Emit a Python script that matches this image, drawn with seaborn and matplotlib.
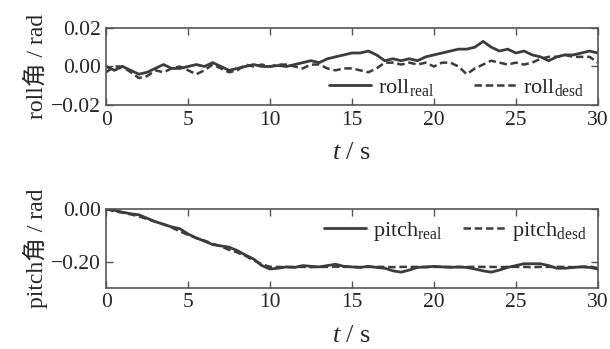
import numpy as np
import pandas as pd
import matplotlib
matplotlib.use("Agg")
import matplotlib.pyplot as plt
import seaborn as sns

# time axis, every 0.5 s
t = np.arange(0, 30.01, 0.5)

roll_real = [0.000, -0.002, 0.000, -0.002, -0.004, -0.003, -0.001, 0.001, -0.001, -0.001,
             0.000, 0.001, 0.000, 0.002, 0.000, -0.002, -0.001, 0.000, 0.001, 0.000,
             0.000, 0.0005, 0.000, 0.001, 0.002, 0.003, 0.002, 0.004, 0.005, 0.006,
             0.007, 0.007, 0.008, 0.006, 0.003, 0.004, 0.003, 0.004, 0.003, 0.005,
             0.006, 0.007, 0.008, 0.009, 0.009, 0.010, 0.013, 0.010, 0.008, 0.009,
             0.007, 0.008, 0.006, 0.005, 0.003, 0.005, 0.006, 0.006, 0.007, 0.008,
             0.007]
roll_desd = [-0.003, 0.000, 0.000, -0.003, -0.006, -0.005, -0.002, -0.003, -0.001, 0.000,
             -0.002, -0.004, -0.002, 0.001, -0.001, -0.003, -0.002, 0.001, 0.000, 0.001,
             0.000, 0.001, 0.001, 0.000, -0.001, 0.001, 0.001, -0.001, -0.002, -0.001,
             -0.001, -0.002, -0.003, -0.001, 0.002, 0.002, 0.001, 0.002, 0.001, 0.002,
             0.000, 0.002, 0.002, 0.000, -0.004, -0.001, 0.001, 0.003, 0.002, 0.001,
             0.002, 0.001, 0.002, 0.004, 0.005, 0.005, 0.006, 0.005, 0.005, 0.005,
             0.002]

pitch_real = [0.000, -0.005, -0.012, -0.018, -0.022, -0.035, -0.048, -0.058, -0.068, -0.075,
              -0.095, -0.110, -0.122, -0.135, -0.140, -0.145, -0.158, -0.175, -0.190, -0.215,
              -0.228, -0.225, -0.220, -0.222, -0.215, -0.218, -0.220, -0.215, -0.210, -0.218,
              -0.220, -0.222, -0.218, -0.222, -0.225, -0.235, -0.240, -0.232, -0.222, -0.220,
              -0.218, -0.220, -0.222, -0.220, -0.222, -0.228, -0.235, -0.240, -0.232, -0.222,
              -0.215, -0.208, -0.208, -0.208, -0.215, -0.225, -0.225, -0.222, -0.220, -0.222,
              -0.228]
pitch_desd = [0.000, -0.008, -0.014, -0.020, -0.028, -0.038, -0.048, -0.058, -0.070, -0.085,
              -0.098, -0.110, -0.120, -0.132, -0.142, -0.155, -0.165, -0.178, -0.195, -0.210,
              -0.220, -0.220, -0.221, -0.220, -0.220, -0.221, -0.220, -0.220, -0.219, -0.220,
              -0.220, -0.221, -0.220, -0.220, -0.220, -0.221, -0.220, -0.220, -0.220, -0.221,
              -0.220, -0.220, -0.220, -0.221, -0.220, -0.220, -0.220, -0.220, -0.221, -0.220,
              -0.220, -0.220, -0.221, -0.220, -0.220, -0.220, -0.220, -0.221, -0.220, -0.218,
              -0.225]

sns.set_theme(style="ticks")
plt.rcParams['font.family'] = ['Liberation Serif', 'Noto Sans CJK SC']
plt.rcParams['mathtext.fontset'] = 'custom'
plt.rcParams['mathtext.rm'] = 'Liberation Serif'
plt.rcParams['mathtext.it'] = 'Liberation Serif:italic'
plt.rcParams['font.size'] = 15

col = '#3c3c3c'
fig = plt.figure(figsize=(6.1, 3.49), dpi=100)
ax1 = fig.add_axes([0.174, 0.699, 0.806, 0.221])
ax2 = fig.add_axes([0.174, 0.175, 0.806, 0.226])

def panel(ax, real, desd, name):
    sns.lineplot(x=t, y=real, ax=ax, color=col, lw=2.0,
                 label=name + '$_{\\rm real}$')
    sns.lineplot(x=t, y=desd, ax=ax, color=col, lw=1.8, linestyle=(0, (3, 1.5)),
                 label=name + '$_{\\rm desd}$')
    ax.set_xlim(0, 30)
    ax.set_xticks([0, 5, 10, 15, 20, 25, 30])
    ax.set_xlabel('$t$ / s', fontsize=19, labelpad=9)
    ax.set_ylabel(name + '角 / rad', fontsize=17, labelpad=2)
    ax.tick_params(direction='in', top=True, right=True, labelsize=15.5,
                   length=5, width=1, color='#555555', pad=4)
    for s in ax.spines.values():
        s.set_color('#555555')
        s.set_linewidth(1.2)

panel(ax1, roll_real, roll_desd, 'roll')
ax1.set_ylim(-0.02, 0.02)
ax1.set_yticks([-0.02, 0.0, 0.02])
ax1.set_yticklabels(['\u22120.02', '0.00', '0.02'])
ax1.legend(loc='lower right', ncol=2, frameon=False, fontsize=16,
           handlelength=1.9, columnspacing=1.8, borderaxespad=0.0,
           handletextpad=0.3, bbox_to_anchor=(0.99, -0.02))

panel(ax2, pitch_real, pitch_desd, 'pitch')
ax2.set_ylim(-0.30, 0.0)
ax2.set_yticks([-0.20, 0.0])
ax2.set_yticklabels(['\u22120.20', '0.00'])
ax2.legend(loc='upper right', ncol=2, frameon=False, fontsize=16,
           handlelength=1.9, columnspacing=0.9, borderaxespad=0.0,
           handletextpad=0.3, bbox_to_anchor=(0.995, 0.98))

fig.savefig('out.png', dpi=100)
